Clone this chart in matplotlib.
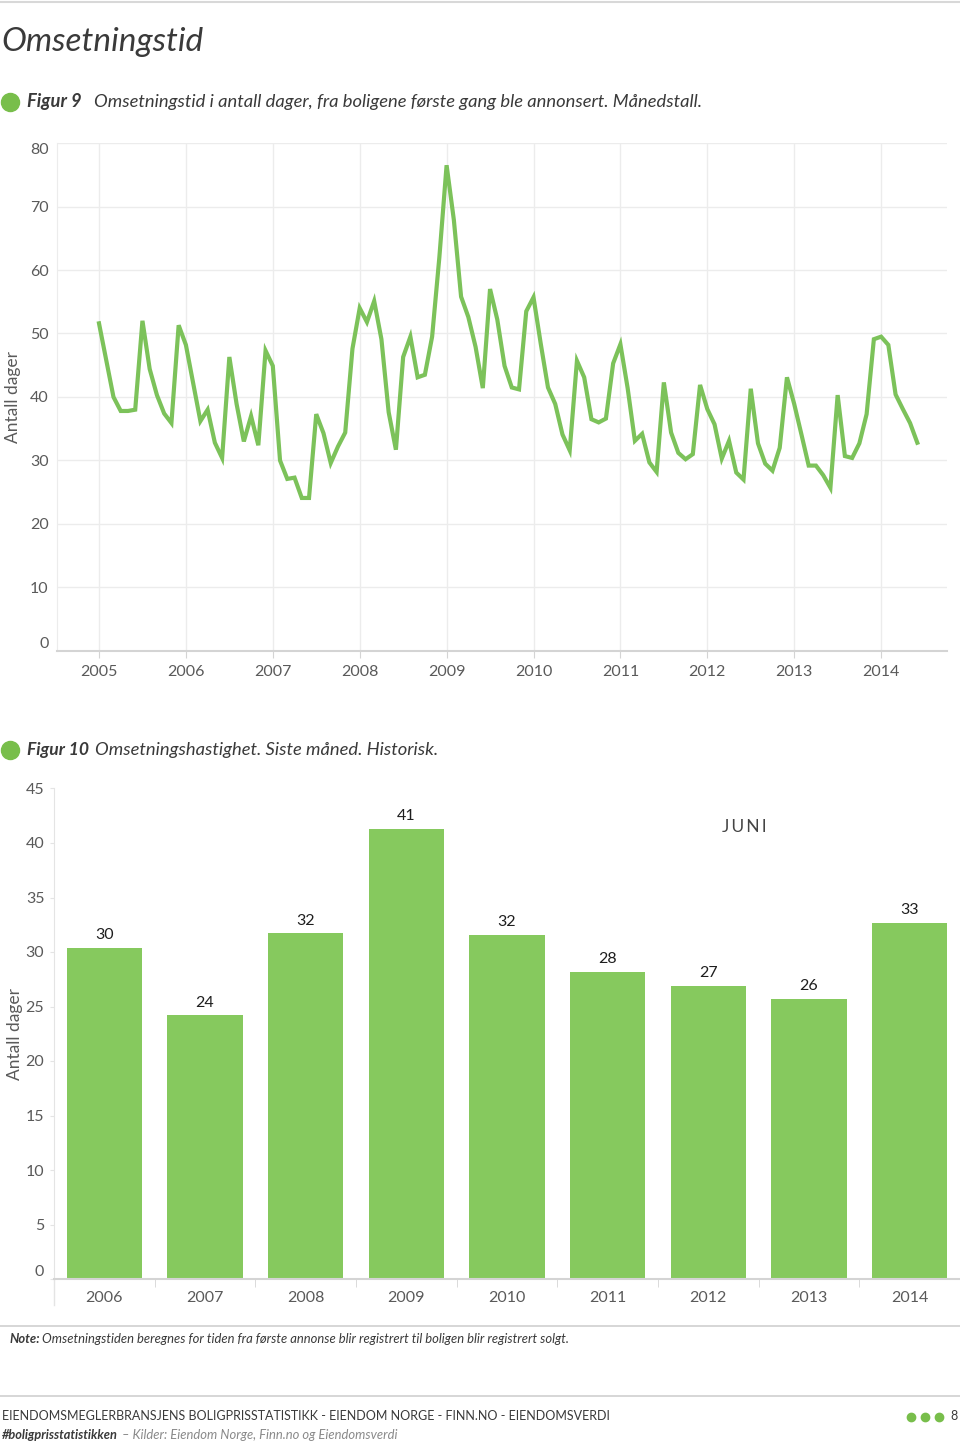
import matplotlib
matplotlib.use("Agg")
import matplotlib.pyplot as plt
from matplotlib.lines import Line2D
import numpy as np

plt.rcParams['font.family'] = ['Lato', 'DejaVu Sans']

# figure 9: monthly turnover time (days), Jan 2005 - Jun 2014
start_year = 2005
dager = [
    51.6, 45.8, 40.0, 37.8, 37.8, 38.0, 52.0, 44.4, 40.3, 37.4, 35.9, 51.3,   # 2005
    48.2, 42.2, 36.2, 38.0, 32.8, 30.4, 46.3, 38.9, 33.0, 37.0, 32.4, 47.3,   # 2006
    44.9, 30.0, 27.1, 27.3, 24.1, 24.1, 37.3, 34.3, 29.6, 32.2, 34.4, 47.6,   # 2007
    54.0, 51.8, 55.1, 49.1, 37.6, 31.7, 46.3, 49.5, 43.1, 43.5, 49.5, 62.0,   # 2008
    76.5, 67.9, 55.8, 52.6, 47.9, 41.4, 57.0, 52.2, 44.9, 41.5, 41.2, 53.5,   # 2009
    55.7, 48.4, 41.5, 38.9, 34.1, 31.6, 45.7, 43.1, 36.5, 36.0, 36.6, 45.3,   # 2010
    48.3, 41.4, 33.1, 34.2, 29.7, 28.2, 42.3, 34.4, 31.2, 30.2, 31.0, 41.9,   # 2011
    38.1, 35.7, 30.3, 33.1, 28.1, 27.0, 41.3, 32.7, 29.5, 28.4, 32.0, 43.1,   # 2012
    38.9, 34.1, 29.2, 29.2, 27.7, 25.7, 40.3, 30.7, 30.4, 32.7, 37.3, 49.1,   # 2013
    49.5, 48.2, 40.4, 38.1, 35.9, 32.8,                                       # 2014
]
line_years = list(range(2005, 2015))
line_yticks = [0, 10, 20, 30, 40, 50, 60, 70, 80]

# figure 10: turnover speed, June each year
bar_years = ['2006', '2007', '2008', '2009', '2010', '2011', '2012', '2013', '2014']
bar_values = [30.4, 24.2, 31.7, 41.3, 31.6, 28.2, 26.9, 25.7, 32.7]
bar_yticks = [0, 5, 10, 15, 20, 25, 30, 35, 40, 45]

GREEN_LINE = '#7cc25a'
GREEN_BAR = '#86c95e'
GREEN_DOT = '#78be4b'
TXT = '#3a3a3a'
TICK = '#5a5a5a'
GRID = '#ececec'
AXIS = '#d4d4d4'

W, H = 960, 1446
fig = plt.figure(figsize=(W / 100, H / 100), dpi=100)


def fx(px):
    return px / W


def fy(py):
    return 1 - py / H


def hline(y, color='#d0d0d0', lw=1.2):
    fig.add_artist(Line2D([0, 1], [fy(y), fy(y)], transform=fig.transFigure,
                          color=color, lw=lw))


def dot(x, y, size=13, color=GREEN_DOT):
    fig.add_artist(Line2D([fx(x)], [fy(y)], transform=fig.transFigure,
                          marker='o', markersize=size, color=color, lw=0))


# header
hline(2, '#d8d8d8', 1.5)
fig.text(fx(1), fy(42), 'Omsetningstid', fontsize=24, style='italic',
         color=TXT, va='center', ha='left')

dot(10, 102)
fig.text(fx(27), fy(102), 'Figur 9', fontsize=13.2, style='italic',
         weight='bold', color=TXT, va='center')
fig.text(fx(94), fy(102),
         'Omsetningstid i antall dager, fra boligene første gang ble annonsert. Månedstall.',
         fontsize=13.2, style='italic', color=TXT, va='center')

# ---- line chart
ax1_w = fx(947) - fx(57)
ax1 = fig.add_axes([fx(57), fy(651), ax1_w, (651 - 143) / H])
x = start_year + np.arange(len(dager)) / 12.0
ax1.plot(x, dager, color=GREEN_LINE, lw=3, solid_joinstyle='miter', zorder=3)
ax1.set_xlim(2005 - 42 / 86.9, 2005 + 848 / 86.9)
ax1.set_ylim(0, 80)
ax1.set_yticks(line_yticks)
ax1.set_xticks(line_years)
ax1.set_xticklabels([str(y) for y in line_years])
ax1.grid(True, color=GRID, lw=1)
ax1.set_axisbelow(True)
for s in ['top', 'right']:
    ax1.spines[s].set_visible(False)
ax1.spines['left'].set_color(GRID)
ax1.spines['bottom'].set_color(AXIS)
ax1.spines['bottom'].set_linestyle((0, (2, 1)))
ax1.spines['bottom'].set_linewidth(1.5)
ax1.tick_params(axis='y', length=0, pad=6, labelsize=11.5, labelcolor=TICK)
ax1.tick_params(axis='x', length=5, color=AXIS, pad=5, labelsize=11.5, labelcolor=TICK)
ylabs = ax1.get_yticklabels()
ylabs[0].set_va('bottom')
ylabs[-1].set_va('top')
ax1.set_ylabel('Antall dager', fontsize=12.5, color=TICK)
ax1.yaxis.set_label_coords(-fx(57 - 21) / ax1_w, 0.5)

# ---- bar chart
dot(10, 750)
fig.text(fx(27), fy(750), 'Figur 10', fontsize=12.6, style='italic',
         weight='bold', color=TXT, va='center')
fig.text(fx(95), fy(750), 'Omsetningshastighet. Siste måned. Historisk.',
         fontsize=13.2, style='italic', color=TXT, va='center')

ax2_w = 1 - fx(54)
ax2 = fig.add_axes([fx(54), fy(1279), ax2_w, (1279 - 788.5) / H])
pos = np.arange(len(bar_years))
bars = ax2.bar(pos, bar_values, width=0.75, color=GREEN_BAR, zorder=2)
for p, v in zip(pos, bar_values):
    ax2.text(p, v + 0.5, f'{v:.0f}', ha='center', va='bottom',
             fontsize=11.5, color='#1e1e1e')
ax2.set_xlim(-0.5, 8.46)
ax2.set_ylim(0, 45)
ax2.set_yticks(bar_yticks)
ax2.set_xticks(pos)
ax2.set_xticklabels(bar_years)
ax2.set_xticks(np.arange(-0.5, 9, 1), minor=True)
for s in ['top', 'right']:
    ax2.spines[s].set_visible(False)
ax2.spines['left'].set_color('#e4e4e4')
ax2.spines['bottom'].set_color(AXIS)
ax2.spines['bottom'].set_linewidth(1.5)
ax2.tick_params(axis='x', which='major', length=0, pad=9, labelsize=11.5, labelcolor=TICK)
ax2.tick_params(axis='x', which='minor', length=6, color=AXIS)
ax2.tick_params(axis='y', length=3, color='#e4e4e4', pad=4, labelsize=11.5, labelcolor=TICK)
ax2.get_yticklabels()[0].set_va('bottom')
ax2.plot([-0.5, -0.5], [0, -2.4], color='#e4e4e4', lw=1, clip_on=False)
ax2.text(6.36, 41.5, 'J\u2009U\u2009N\u2009I', ha='center', va='center',
         fontsize=12.5, color='#444444')
ax2.set_ylabel('Antall dager', fontsize=12.5, color=TICK)
ax2.yaxis.set_label_coords(-fx(54 - 23) / ax2_w, 0.5)

# ---- note and footer
hline(1326)
fig.text(fx(9), fy(1339), 'Note:', fontsize=9.4, style='italic', weight='bold',
         color=TXT, va='center')
fig.text(fx(42), fy(1339),
         'Omsetningstiden beregnes for tiden fra første annonse blir registrert til boligen blir registrert solgt.',
         fontsize=9.4, style='italic', color=TXT, va='center')

hline(1396)
fig.text(fx(2), fy(1416),
         'EIENDOMSMEGLERBRANSJENS BOLIGPRISSTATISTIKK - EIENDOM NORGE - FINN.NO - EIENDOMSVERDI',
         fontsize=9.0, color=TXT, va='center')
for dx in [911, 925, 939]:
    dot(dx, 1417, size=6)
fig.text(fx(958), fy(1416), '8', fontsize=9, color=TXT, va='center', ha='right')
fig.text(fx(2), fy(1435), '#boligprisstatistikken', fontsize=9.2, style='italic',
         weight='bold', color=TXT, va='center')
fig.text(fx(122), fy(1435), '– Kilder: Eiendom Norge, Finn.no og Eiendomsverdi',
         fontsize=9.4, style='italic', color='#8a8a8a', va='center')

fig.savefig('out.png', dpi=100)
